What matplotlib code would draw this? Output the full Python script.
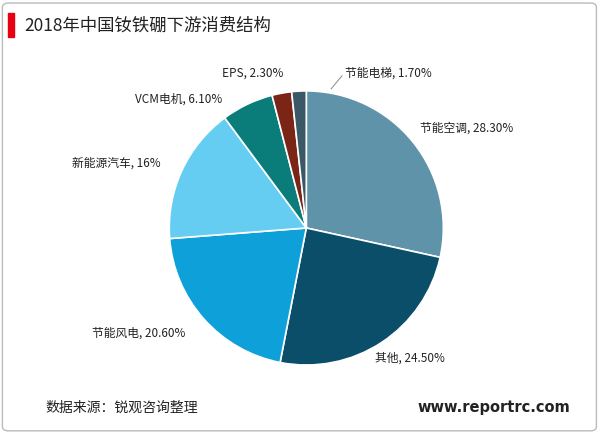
import matplotlib
matplotlib.use("Agg")
import matplotlib.pyplot as plt
from matplotlib.patches import Rectangle, FancyBboxPatch

plt.rcParams['font.family'] = ['Noto Sans CJK SC']

categories = ["节能空调", "其他", "节能风电", "新能源汽车", "VCM电机", "EPS", "节能电梯"]
values = [28.3, 24.5, 20.6, 16.0, 6.1, 2.3, 1.7]
value_labels = ["28.30%", "24.50%", "20.60%", "16%", "6.10%", "2.30%", "1.70%"]
colors = ["#5f93a9", "#0b4e6a", "#0ea0d8", "#66cdf2", "#0a7c7a", "#7a2515", "#3b5866"]

fig = plt.figure(figsize=(6, 4.33), dpi=100)
fig.patches.append(FancyBboxPatch((0.004, 0.005), 0.99, 0.988, boxstyle="round,pad=0,rounding_size=0.01",
                                  transform=fig.transFigure, fill=False, edgecolor="#bbbbbb", lw=1))
fig.patches.append(Rectangle((0.013, 0.915), 0.01, 0.055, transform=fig.transFigure, color="#e60012"))
fig.text(0.04, 0.942, "2018年中国钕铁硼下游消费结构", fontsize=12.5, va="center", color="#222222")
fig.text(0.075, 0.058, "数据来源：锐观咨询整理", fontsize=10, va="center", color="#222222")
fig.text(0.95, 0.058, "www.reportrc.com", fontsize=10.5, va="center", ha="right", fontweight="bold", color="#222222",
         family="DejaVu Sans")

ax = fig.add_axes([0.282, 0.157, 0.457, 0.633])
wedges, _ = ax.pie(values, colors=colors, startangle=90, counterclock=False,
                   wedgeprops=dict(edgecolor="white", linewidth=1.2))
ax.set_xlim(-1, 1)
ax.set_ylim(-1, 1)
ax.set_aspect("equal")

label_pos = {
    "节能空调": (0.70, 0.704),
    "其他": (0.625, 0.173),
    "节能风电": (0.153, 0.231),
    "新能源汽车": (0.12, 0.624),
    "VCM电机": (0.225, 0.771),
    "EPS": (0.37, 0.83),
    "节能电梯": (0.575, 0.83),
}
for c, v in zip(categories, value_labels):
    x, y = label_pos[c]
    fig.text(x, y, f"{c}, {v}", fontsize=8.5, ha="left", va="center", color="#222222")
fig.lines.append(plt.Line2D([0.552, 0.57], [0.795, 0.825], transform=fig.transFigure, color="#888888", lw=0.7))

fig.savefig("out.png", dpi=100)
